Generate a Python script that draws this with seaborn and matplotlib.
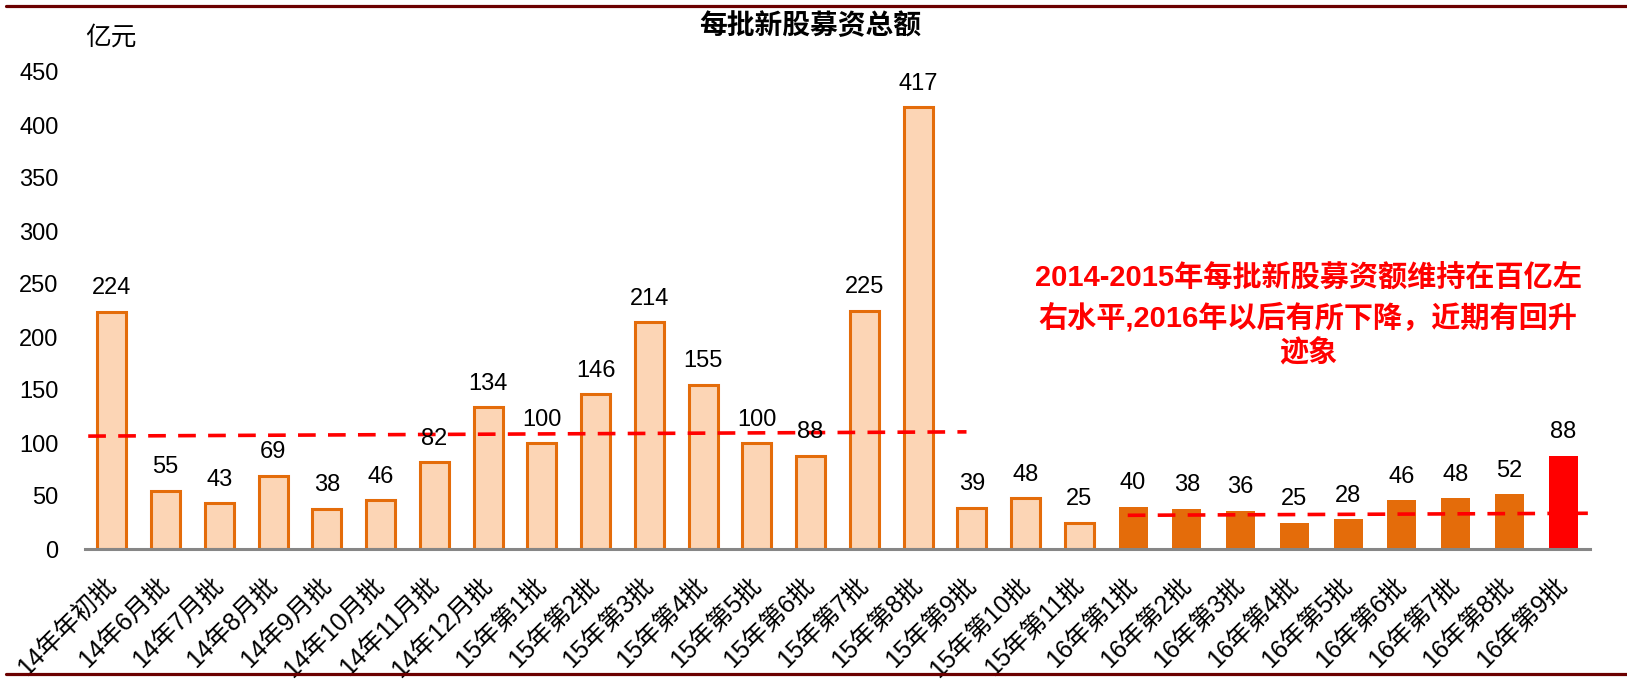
import matplotlib
matplotlib.use("Agg")
import matplotlib.pyplot as plt
from matplotlib.lines import Line2D
import seaborn as sns
import pandas as pd

categories = ["14年年初批", "14年6月批", "14年7月批", "14年8月批", "14年9月批", "14年10月批",
              "14年11月批", "14年12月批",
              "15年第1批", "15年第2批", "15年第3批", "15年第4批", "15年第5批", "15年第6批",
              "15年第7批", "15年第8批", "15年第9批", "15年第10批", "15年第11批",
              "16年第1批", "16年第2批", "16年第3批", "16年第4批", "16年第5批", "16年第6批",
              "16年第7批", "16年第8批", "16年第9批"]
values = [224, 55, 43, 69, 38, 46, 82, 134, 100, 146, 214, 155, 100, 88, 225, 417,
          39, 48, 25, 40, 38, 36, 25, 28, 46, 48, 52, 88]
groups = ["old"] * 19 + ["new"] * 8 + ["latest"]
yticks = [0, 50, 100, 150, 200, 250, 300, 350, 400, 450]

# hand-drawn average (dashed) lines: [start, end] levels
avg_2014_2015 = [106.5, 110.5]
avg_2016 = [31.8, 33.7]

title = "每批新股募资总额"
unit = "亿元"
note_lines = ["2014-2015年每批新股募资额维持在百亿左",
              "右水平,2016年以后有所下降，近期有回升",
              "迹象"]

sns.set_theme(style="white")
plt.rcParams['font.family'] = ['Liberation Sans', 'Noto Sans CJK SC']

W, H = 1627, 680
fig = plt.figure(figsize=(W / 100, H / 100), dpi=100)
ax = fig.add_axes([85 / W, 1 - 549 / H, (1590 - 85) / W, (549 - 72) / H])

face = {"old": "#FCD5B5", "new": "#E46C0A", "latest": "#FF0000"}
df = pd.DataFrame({"cat": categories, "val": values, "grp": groups})
palette = {c: face[g] for c, g in zip(categories, groups)}
sns.barplot(data=df, x="cat", y="val", hue="cat", palette=palette, legend=False,
            width=0.54, saturation=1, ax=ax, zorder=2)

for patch, g in zip(ax.patches, groups):
    if g == "old":
        patch.set_edgecolor("#E46C0A")
        patch.set_linewidth(2.2)
    else:
        patch.set_edgecolor(face[g])
        patch.set_linewidth(0)

for i, v in enumerate(values):
    ax.annotate(str(v), xy=(i, v), xytext=(0, 12.5), textcoords="offset points",
                ha="center", va="baseline", fontsize=17, color="black", zorder=5)

dash_kw = dict(color="#FF0000", linewidth=2.6, dashes=(4.9, 3.4), zorder=4,
               solid_capstyle="butt", dash_capstyle="butt")
ax.plot([-0.44, 15.9], avg_2014_2015, **dash_kw)
ax.plot([18.9, 27.46], avg_2016, **dash_kw)

ax.set_xlim(-0.5, 27.5)
ax.set_ylim(0, 450)
ax.set_yticks(yticks)
ax.set_yticklabels([str(t) for t in yticks], fontsize=17, color="black")
ax.set_xlabel("")
ax.set_ylabel("")
ax.set_xticks(range(len(categories)))
ax.set_xticklabels(categories, rotation=45, ha="right", va="center",
                   rotation_mode="anchor", fontsize=18, color="black")
ax.tick_params(axis="x", length=0, pad=23)
ax.tick_params(axis="y", length=0, pad=19)
for s in ["top", "right", "left"]:
    ax.spines[s].set_visible(False)
ax.spines["bottom"].set_color("#868686")
ax.spines["bottom"].set_linewidth(2.2)
ax.grid(False)

fig.text(810 / W, 1 - 27 / H, title, ha="center", va="center", fontsize=20,
         fontweight="bold", color="black")
fig.text(85 / W, 1 - 38 / H, unit, ha="left", va="center", fontsize=18.5, color="black")

for txt, y in zip(note_lines, [277, 318, 353]):
    fig.text(1308 / W, 1 - y / H, txt, ha="center", va="center", fontsize=21,
             fontweight="bold", color="#FF0000")

fig.add_artist(Line2D([6 / W, 1], [1 - 5.5 / H, 1 - 5.5 / H], color="#6B0000",
                      linewidth=2.3, transform=fig.transFigure))
fig.add_artist(Line2D([6 / W, 1], [1 - 674 / H, 1 - 674 / H], color="#6B0000",
                      linewidth=2.3, transform=fig.transFigure))

fig.savefig("out.png", dpi=100)
